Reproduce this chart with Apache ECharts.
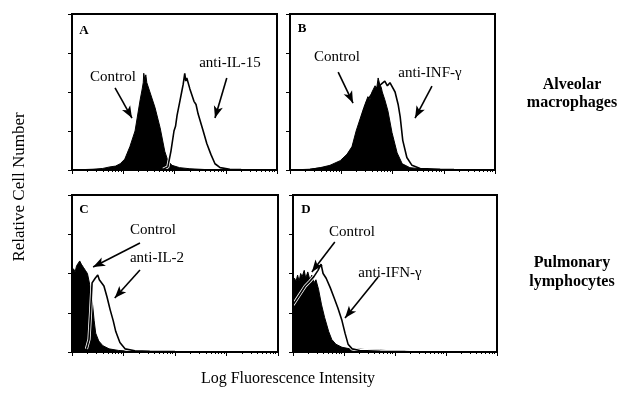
<!doctype html>
<html>
<head>
<meta charset="utf-8">
<title>Flow cytometry histograms</title>
<script src="https://cdn.jsdelivr.net/npm/echarts@6/dist/echarts.min.js"></script>
<style>
  html, body { margin: 0; padding: 0; background: #fff; }
  #chart { width: 623px; height: 401px; }
</style>
</head>
<body>
<div id="chart"></div>
<script>
// x in log decades (0..4), y in % of panel height
var ctrlA = [[0,0],[0.41,0.5],[0.6,1],[0.74,2],[0.85,2.5],[0.94,4],[1.03,7],[1.13,15],[1.23,25],[1.33,45],[1.37,52],[1.39,56],[1.40,62],[1.42,58],[1.44,61],[1.46,56],[1.52,50],[1.62,40],[1.72,27],[1.81,12],[1.87,6],[1.95,3],[2.1,1.5],[2.3,0.8],[2.6,0.3],[3.0,0],[4,0]];
var antiA = [[1.78,0.5],[1.87,2],[1.93,12],[1.99,25],[2.02,28],[2.05,35],[2.11,45],[2.14,50],[2.17,55],[2.2,62],[2.22,57],[2.24,59],[2.3,52],[2.38,44],[2.42,42],[2.46,36],[2.56,25],[2.63,17],[2.71,10],[2.79,4],[2.89,1.5],[3.08,0.5],[3.3,0.3]];

var ctrlB = [[0,0],[0.39,0.5],[0.59,1.5],[0.78,3],[0.98,6],[1.11,10],[1.21,15],[1.29,25],[1.37,33],[1.44,40],[1.52,47],[1.56,45],[1.60,50],[1.66,54],[1.69,52],[1.72,59],[1.75,55],[1.78,53],[1.80,50],[1.85,45],[1.91,38],[1.99,24],[2.09,11],[2.19,4],[2.34,1.5],[2.63,0.5],[2.93,0.2],[3.2,0],[4,0]];
var antiB = [[0.39,0.3],[0.78,2],[1.0,5],[1.2,13],[1.3,22],[1.4,34],[1.5,44],[1.6,49],[1.7,53],[1.78,55],[1.85,57],[1.90,54],[1.95,56],[2.05,50],[2.11,42],[2.15,34],[2.2,19],[2.28,8],[2.38,3],[2.54,1],[2.93,0.4],[3.2,0.3]];

var ctrlC = [[0,50],[0.03,53],[0.06,51],[0.09,55],[0.12,54],[0.15,58],[0.18,56],[0.22,54],[0.26,52],[0.3,50],[0.35,42],[0.4,30],[0.43,20],[0.46,12],[0.52,7],[0.6,4],[0.72,2],[0.9,1],[1.15,0.4],[1.5,0.1],[2,0],[4,0]];
var antiC = [[0.28,2],[0.33,8],[0.36,25],[0.39,44],[0.45,47],[0.5,49],[0.53,46],[0.56,47],[0.62,42],[0.68,35],[0.74,27],[0.8,20],[0.85,13],[0.93,6],[1.03,2],[1.22,0.8],[1.51,0.4],[2,0.3]];

var ctrlD = [[0,44],[0.03,47],[0.06,45],[0.09,49],[0.12,45],[0.15,50],[0.18,48],[0.22,52],[0.25,47],[0.29,51],[0.33,46],[0.37,49],[0.41,44],[0.45,46],[0.5,40],[0.56,30],[0.62,22],[0.7,13],[0.76,8],[0.84,5],[0.96,3],[1.12,2],[1.3,1.8],[1.5,1.4],[1.7,1.2],[1.9,0.8],[2.1,0.5],[2.4,0.2],[2.8,0],[4,0]];
var antiD = [[0,30],[0.12,36],[0.24,42],[0.33,45],[0.41,48],[0.49,52],[0.55,56],[0.59,50],[0.65,47],[0.73,41],[0.8,35],[0.88,28],[0.96,20],[1.02,12],[1.08,5],[1.16,2],[1.31,1],[1.71,0.5],[2.2,0.3]];

// arrows: [from, to] in data units
var arrowsCtrl = [[[0.84,52.6],[1.17,33.3]], [[0.94,62.8],[1.23,42.9]], [[1.32,69.4],[0.41,54.1]], [[0.82,70],[0.37,51]]];
var arrowsAnti = [[[3.02,59],[2.79,33.3]], [[2.77,53.8],[2.44,33.3]], [[1.32,52.2],[0.83,34.4]], [[1.67,47.8],[1.02,21.7]]];

var antiNames = ['anti-IL-15', 'anti-INF-γ', 'anti-IL-2', 'anti-IFN-γ'];

var ctrlData = [ctrlA, ctrlB, ctrlC, ctrlD];
var antiData = [antiA, antiB, antiC, antiD];
var antiUnder = [false, true, false, false];

var grids = [
  {left: 72, top: 14, width: 205, height: 156},
  {left: 290, top: 14, width: 205, height: 156},
  {left: 72, top: 195, width: 206, height: 157},
  {left: 293, top: 195, width: 204, height: 157}
];

var minorTicks = [];
for (var d = 0; d < 4; d++) {
  for (var k = 2; k <= 9; k++) minorTicks.push(d + Math.log10(k));
}

var xAxes = [], yAxes = [], series = [];
grids.forEach(function (g, i) {
  g.show = true;
  g.borderColor = '#000';
  g.borderWidth = 2;
  xAxes.push({
    gridIndex: i, type: 'value', min: 0, max: 4, interval: 1, z: 10,
    axisLine: {lineStyle: {color: '#000', width: 2}},
    axisTick: {length: 4, lineStyle: {color: '#000', width: 1}},
    axisLabel: {show: false}, splitLine: {show: false}
  });
  xAxes.push({
    gridIndex: i, type: 'value', min: 0, max: 4, position: 'bottom', z: 10,
    axisLine: {show: false},
    axisTick: {length: 2, customValues: minorTicks, lineStyle: {color: '#000', width: 1}},
    axisLabel: {show: false}, splitLine: {show: false}
  });
  yAxes.push({
    gridIndex: i, type: 'value', min: 0, max: 100, interval: 25, z: 10,
    axisLine: {show: true, lineStyle: {color: '#000', width: 2}},
    axisTick: {show: true, length: 4, lineStyle: {color: '#000', width: 1}},
    axisLabel: {show: false}, splitLine: {show: false}
  });

  var arrowStyle = {
    silent: true, symbol: ['none', 'arrow'], symbolSize: [7, 12],
    lineStyle: {color: '#000', width: 1.6, type: 'solid'},
    label: {show: false}
  };
  var zA = antiUnder[i] ? 1 : 3;

  series.push({
    type: 'line', xAxisIndex: i * 2, yAxisIndex: i, data: ctrlData[i],
    symbol: 'none', z: 2,
    lineStyle: {color: '#000', width: 1},
    areaStyle: {color: '#000', opacity: 1},
    markLine: Object.assign({data: [[{coord: arrowsCtrl[i][0]}, {coord: arrowsCtrl[i][1]}]]}, arrowStyle)
  });
  series.push({
    type: 'line', xAxisIndex: i * 2, yAxisIndex: i, data: antiData[i],
    symbol: 'none', z: zA,
    lineStyle: {color: '#fff', width: 3.2}
  });
  series.push({
    type: 'line', xAxisIndex: i * 2, yAxisIndex: i, data: antiData[i],
    symbol: 'none', z: zA + 0.5,
    lineStyle: {color: '#000', width: 1.6},
    markLine: Object.assign({data: [[{coord: arrowsAnti[i][0]}, {coord: arrowsAnti[i][1]}]]}, arrowStyle)
  });
});

var serif = '"Liberation Serif", "DejaVu Serif", serif';
function txt(s, x, y, size, bold, rot) {
  return {
    type: 'text', x: x, y: y, rotation: rot || 0, silent: true,
    style: {text: s, font: (bold ? 'bold ' : '') + size + 'px ' + serif, fill: '#000', align: 'center', verticalAlign: 'middle'}
  };
}

var graphics = [
  txt('A', 84, 31, 13, true), txt('B', 302, 29, 13, true),
  txt('C', 84, 210, 13, true), txt('D', 306, 210, 13, true),
  txt('Control', 113, 77, 15), txt(antiNames[0], 230, 63, 15),
  txt('Control', 337, 57, 15), txt(antiNames[1], 430, 73, 15),
  txt('Control', 153, 230, 15), txt(antiNames[2], 157, 258, 15),
  txt('Control', 352, 232, 15), txt(antiNames[3], 390, 273, 15),
  txt('Alveolar', 572, 85, 16, true), txt('macrophages', 572, 103, 16, true),
  txt('Pulmonary', 572, 263, 16, true), txt('lymphocytes', 572, 282, 16, true),
  txt('Relative Cell Number', 20, 187, 17, false, Math.PI / 2),
  txt('Log Fluorescence Intensity', 288, 379, 16)
];

var chart = echarts.init(document.getElementById('chart'), null, {renderer: 'canvas'});
chart.setOption({
  backgroundColor: '#fff',
  animation: false,
  grid: grids,
  xAxis: xAxes,
  yAxis: yAxes,
  series: series,
  graphic: graphics
});
</script>
</body>
</html>
